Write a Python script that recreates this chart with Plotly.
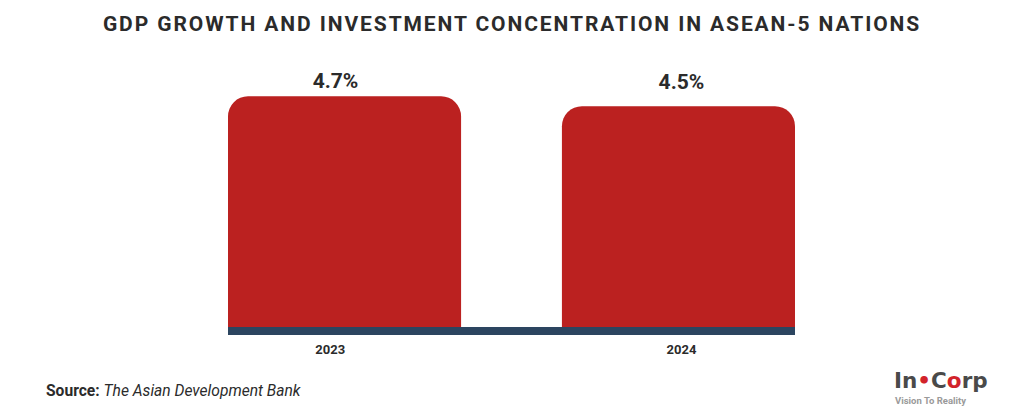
import plotly.graph_objects as go

YEARS = ["2023", "2024"]
GDP_GROWTH = [4.7, 4.5]
VALUE_LABELS = ["4.7%", "4.5%"]
LABEL_HEIGHTS = [4.97, 4.96]  # both labels sit on about one line in the original

# the original's texts are not centred on their bars
BAR_SLOTS = [0, 1]
TICK_SLOTS = [-0.043, 1.009]
LABEL_SLOTS = [-0.027, 1.009]

RED = "#bb2120"
NAVY = "#2c4560"
DARK = "#2b2b2b"
FONT = "Roboto"

fig = go.Figure()
fig.add_bar(
    x=BAR_SLOTS,
    y=GDP_GROWTH,
    width=0.698,
    marker=dict(color=RED, line=dict(width=0)),
    hoverinfo="skip",
)
fig.add_scatter(
    x=LABEL_SLOTS,
    y=LABEL_HEIGHTS,
    mode="text",
    text=VALUE_LABELS,
    textposition="middle center",
    textfont=dict(family=FONT, size=21, color=DARK, weight=700),
    hoverinfo="skip",
)

fig.update_layout(
    width=1024,
    height=415,
    paper_bgcolor="white",
    plot_bgcolor="white",
    showlegend=False,
    barcornerradius=20,
    margin=dict(l=228, r=229, t=60, b=88, autoexpand=False),
    font=dict(family=FONT, color=DARK),
    title=dict(
        text="<b>GDP GROWTH AND INVESTMENT CONCENTRATION IN ASEAN-5 NATIONS</b>",
        x=0.5,
        xanchor="center",
        y=0.942,
        yanchor="middle",
        font=dict(family=FONT, size=21, color=DARK),
    ),
    xaxis=dict(
        range=[-0.349, 1.349],
        tickmode="array",
        tickvals=TICK_SLOTS,
        ticktext=YEARS,
        showline=True,
        linecolor=NAVY,
        linewidth=8,
        showgrid=False,
        zeroline=False,
        ticks="",
        tickfont=dict(family=FONT, size=13, color=DARK, weight=700),
        ticklabelstandoff=3,
    ),
    yaxis=dict(visible=False, range=[0, 5.44]),
)

fig.add_annotation(
    xref="paper", yref="paper", x=-0.324, y=-0.24, xanchor="left", yanchor="middle",
    showarrow=False,
    text="<b>Source:</b> <i>The Asian Development Bank</i>",
    font=dict(family=FONT, size=15.6, color=DARK),
)
# logo wordmark
fig.add_annotation(
    xref="paper", yref="paper", x=1.258, y=-0.202, xanchor="center", yanchor="middle",
    showarrow=False,
    text="<b>In<span style='color:#d2232a'>•</span>C<span style='color:#d2232a'>o</span>rp</b>",
    font=dict(family="DejaVu Sans", size=21.5, color="#4a4a4a"),
)
fig.add_annotation(
    xref="paper", yref="paper", x=1.172, y=-0.277, xanchor="left", yanchor="middle",
    showarrow=False,
    text="<b>Vision To Reality</b>",
    font=dict(family=FONT, size=9.5, color="#9a9a9a"),
)

# page margin off so the figure fills the window, title tracking as in the original
POST = """
document.body.style.margin = '0';
document.querySelectorAll('.gtitle').forEach(function (t) { t.style.letterSpacing = '1.9px'; });
"""
fig.write_html("out.html", post_script=POST, config=dict(displayModeBar=False))
